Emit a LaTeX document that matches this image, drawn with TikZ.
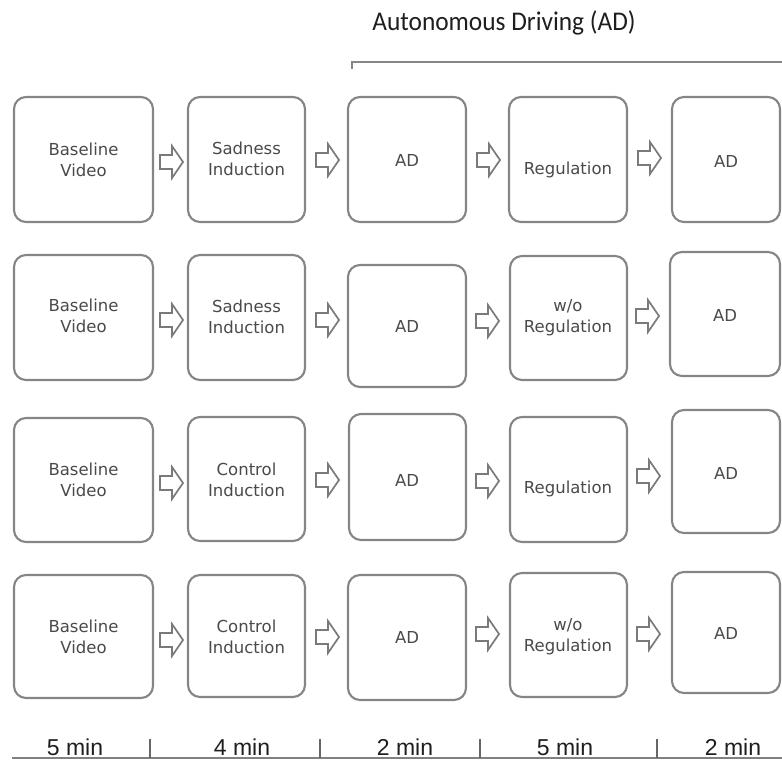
\documentclass[tikz,border=0pt]{standalone}
\usepackage{fontspec}
\setmainfont{DejaVu Sans}
\newfontfamily\adfont{Carlito}
\newfontfamily\minfont{Liberation Sans}
\usetikzlibrary{fit,calc}
\definecolor{boxgray}{HTML}{858585}
\definecolor{txtgray}{HTML}{4A4A4A}
\definecolor{arrgray}{HTML}{7A7A7A}
\definecolor{darktxt}{HTML}{1E1E1E}
\tikzset{
  stagebox/.style={draw=boxgray, line width=2.1pt, rounded corners=12pt, inner sep=0pt, fill=white},
  stagetext/.style={text=txtgray, align=center, font=\fontsize{16.5}{21}\selectfont, inner sep=0pt},
  blockarrow/.style={draw=arrgray, line width=1.7pt, fill=white, line join=miter},
  bracketline/.style={draw=boxgray, line width=1.5pt},
  timeline/.style={draw=gray, line width=1.5pt},
  timetick/.style={draw=gray!80!black, line width=2.5pt},
  timelabel/.style={text=darktxt, font=\minfont\fontsize{23}{26}\selectfont, anchor=base, inner sep=0pt},
}
\newcommand{\stg}[6]{% name, x1, y1, x2, y2
  \node[stagebox, fit={(#2,#3) (#4,#5)}] (#1) {};}
\newcommand{\blockarr}[3]{% name, x, ycenter
  \coordinate (#1) at (#2,#3);
  \draw[blockarrow] ($(#1)+(0,-7)$) -- ++(12,0) -- ++(0,-9) -- ++(11,16) -- ++(-11,16) -- ++(0,-9) -- ++(-12,0) -- cycle;}
\begin{document}
\begin{tikzpicture}[x=1pt,y=-1pt]
\useasboundingbox (0,0) rectangle (782,760);
% title and bracket
\node[text=darktxt, font=\adfont\fontsize{27}{30}\selectfont, inner sep=0pt] (title) at (504,23) {\scalebox{0.94}[1]{Autonomous Driving (AD)}};
\coordinate (brA) at (352,69);
\coordinate (brB) at (352,62);
\coordinate (brC) at (782,62);
\draw[bracketline] (brA) -- (brB) -- (brC);

% Row 1
\stg{r1a}{14}{97}{153}{222}{}
\stg{r1b}{188}{97}{305}{222}{}
\stg{r1c}{348}{97}{466}{222}{}
\stg{r1d}{509}{97}{627}{222}{}
\stg{r1e}{672}{97}{780}{222}{}
\node[stagetext] (t1a) at (83.5,160) {Baseline\\Video};
\node[stagetext] (t1b) at (246.5,159) {Sadness\\Induction};
\node[stagetext] (t1c) at (407,160) {AD};
\node[stagetext] (t1d) at (568,170) {Regulation};
\node[stagetext] (t1e) at (726,161) {AD};
\blockarr{a1a}{160}{162}
\blockarr{a1b}{316}{160}
\blockarr{a1c}{477}{160}
\blockarr{a1d}{638}{158}

% Row 2
\stg{r2a}{14}{255}{153}{380}{}
\stg{r2b}{188}{255}{305}{380}{}
\stg{r2c}{348}{265}{466}{387}{}
\stg{r2d}{510}{256}{627}{380}{}
\stg{r2e}{670}{252}{780}{376}{}
\node[stagetext] (t2a) at (83.5,316) {Baseline\\Video};
\node[stagetext] (t2b) at (246.5,317) {Sadness\\Induction};
\node[stagetext] (t2c) at (407,326) {AD};
\node[stagetext] (t2d) at (568,318) {w/o\\Regulation};
\node[stagetext] (t2e) at (725,315) {AD};
\blockarr{a2a}{160}{320}
\blockarr{a2b}{316}{320}
\blockarr{a2c}{476}{321}
\blockarr{a2d}{636}{316}

% Row 3
\stg{r3a}{14}{418}{153}{542}{}
\stg{r3b}{188}{417}{305}{541}{}
\stg{r3c}{349}{414}{466}{540}{}
\stg{r3d}{510}{417}{627}{542}{}
\stg{r3e}{672}{410}{780}{533}{}
\node[stagetext] (t3a) at (83.5,480) {Baseline\\Video};
\node[stagetext] (t3b) at (246.5,480) {Control\\Induction};
\node[stagetext] (t3c) at (407,480) {AD};
\node[stagetext] (t3d) at (568,489) {Regulation};
\node[stagetext] (t3e) at (726,473) {AD};
\blockarr{a3a}{160}{483}
\blockarr{a3b}{316}{480}
\blockarr{a3c}{476}{481}
\blockarr{a3d}{637}{476}

% Row 4
\stg{r4a}{14}{575}{153}{698}{}
\stg{r4b}{188}{575}{305}{697}{}
\stg{r4c}{348}{575}{466}{700}{}
\stg{r4d}{510}{573}{627}{697}{}
\stg{r4e}{672}{572}{780}{693}{}
\node[stagetext] (t4a) at (83.5,637) {Baseline\\Video};
\node[stagetext] (t4b) at (246.5,637) {Control\\Induction};
\node[stagetext] (t4c) at (407,637) {AD};
\node[stagetext] (t4d) at (568,637) {w/o\\Regulation};
\node[stagetext] (t4e) at (726,633) {AD};
\blockarr{a4a}{160}{640}
\blockarr{a4b}{316}{637}
\blockarr{a4c}{476}{634}
\blockarr{a4d}{637}{634}

% timeline
\coordinate (tlA) at (12,758);
\coordinate (tlB) at (782,758);
\draw[timeline] (tlA) -- (tlB);
\foreach \tx [count=\i] in {150,320,480,657}{
  \coordinate (tk\i a) at (\tx,739);
  \coordinate (tk\i b) at (\tx,758);
  \draw[timetick] (tk\i a) -- (tk\i b);
}
\node[timelabel] (m1) at (75,755) {5 min};
\node[timelabel] (m2) at (242,755) {4 min};
\node[timelabel] (m3) at (405,755) {2 min};
\node[timelabel] (m4) at (565,755) {5 min};
\node[timelabel] (m5) at (733,755) {2 min};
\end{tikzpicture}
\end{document}
